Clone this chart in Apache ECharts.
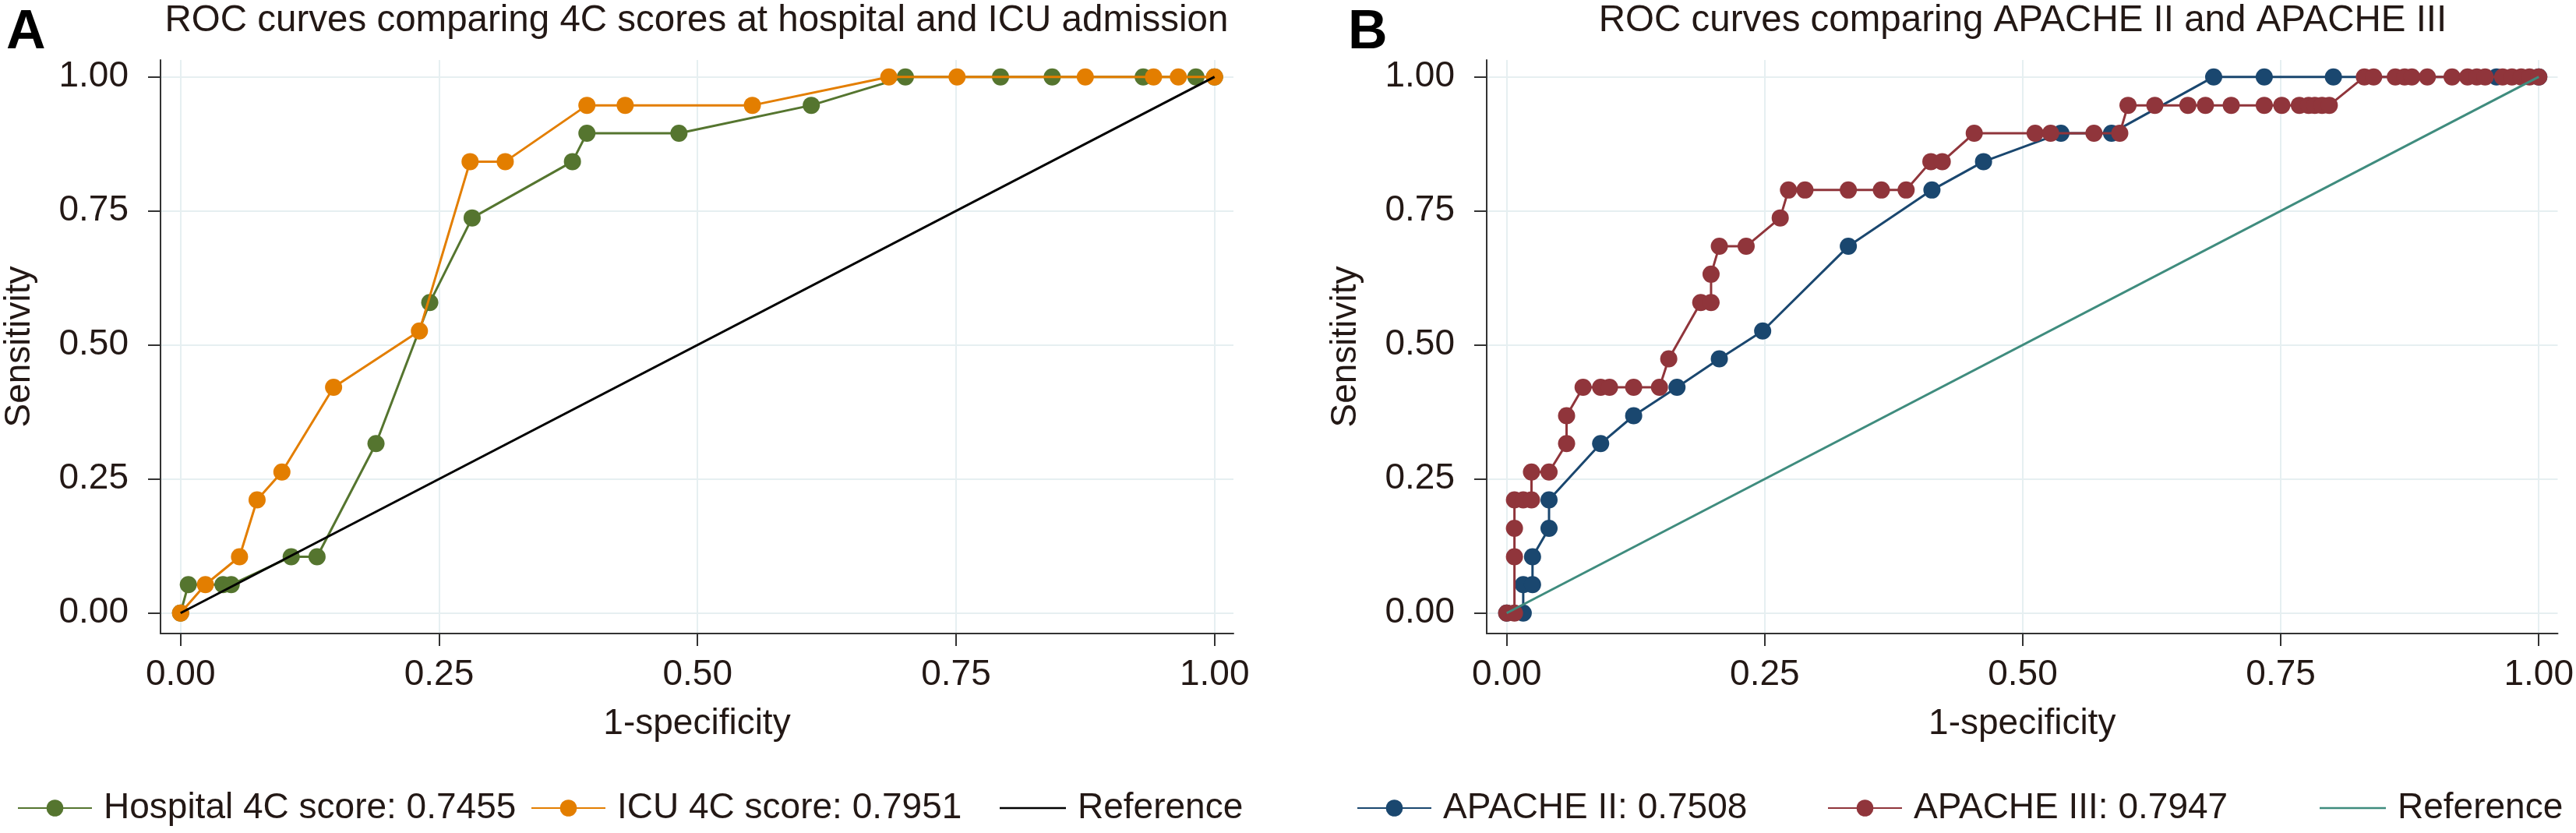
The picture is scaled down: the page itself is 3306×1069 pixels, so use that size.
<!DOCTYPE html>
<html><head><meta charset="utf-8">
<script src="https://cdn.jsdelivr.net/npm/echarts@6/dist/echarts.min.js"></script>
<style>html,body{margin:0;padding:0;background:#fff}#c{width:3306px;height:1069px}</style>
</head><body><div id="c"></div>
<script>
// ---- data ----
const tickValues = [0, 0.25, 0.5, 0.75, 1];
const panelTitles = ['ROC curves comparing 4C scores at hospital and ICU admission', 'ROC curves comparing APACHE II and APACHE III'];
const panelLetters = ['A', 'B'];

const hospX = [0, 0.0075, 0.041, 0.049, 0.107, 0.132, 0.189, 0.241, 0.282, 0.379, 0.393, 0.482, 0.610, 0.701, 0.793, 0.843, 0.931, 0.982, 1];
const hospY = [0, 0.053, 0.053, 0.053, 0.105, 0.105, 0.316, 0.579, 0.737, 0.842, 0.895, 0.895, 0.947, 1, 1, 1, 1, 1, 1];

const icuX = [0, 0.024, 0.057, 0.074, 0.098, 0.148, 0.231, 0.280, 0.314, 0.393, 0.430, 0.553, 0.685, 0.751, 0.875, 0.941, 0.965, 1];
const icuY = [0, 0.053, 0.105, 0.211, 0.263, 0.421, 0.526, 0.842, 0.842, 0.947, 0.947, 0.947, 1, 1, 1, 1, 1, 1];

const ap2X = [0, 0.016, 0.016, 0.025, 0.025, 0.041, 0.041, 0.091, 0.123, 0.165, 0.206, 0.248, 0.331, 0.412, 0.462, 0.537, 0.586, 0.685, 0.734, 0.801, 0.959, 1];
const ap2Y = [0, 0, 0.053, 0.053, 0.105, 0.158, 0.211, 0.316, 0.368, 0.421, 0.474, 0.526, 0.684, 0.789, 0.842, 0.895, 0.895, 1, 1, 1, 1, 1];

const ap3X = [0, 0.0075, 0.0075, 0.0075, 0.0075, 0.016, 0.024, 0.024, 0.041, 0.058, 0.058, 0.074, 0.091, 0.0996, 0.123, 0.148, 0.157, 0.188, 0.198, 0.198, 0.206, 0.232, 0.265, 0.273, 0.289, 0.331, 0.363, 0.387, 0.411, 0.422, 0.453, 0.512, 0.527, 0.569, 0.594, 0.602, 0.628, 0.660, 0.677, 0.702, 0.734, 0.751, 0.768, 0.777, 0.783, 0.790, 0.797, 0.831, 0.840, 0.861, 0.870, 0.877, 0.892, 0.916, 0.931, 0.940, 0.948, 0.965, 0.974, 0.983, 0.991, 1];
const ap3Y = [0, 0, 0.105, 0.158, 0.211, 0.211, 0.211, 0.263, 0.263, 0.316, 0.368, 0.421, 0.421, 0.421, 0.421, 0.421, 0.474, 0.579, 0.579, 0.632, 0.684, 0.684, 0.737, 0.789, 0.789, 0.789, 0.789, 0.789, 0.842, 0.842, 0.895, 0.895, 0.895, 0.895, 0.895, 0.947, 0.947, 0.947, 0.947, 0.947, 0.947, 0.947, 0.947, 0.947, 0.947, 0.947, 0.947, 1, 1, 1, 1, 1, 1, 1, 1, 1, 1, 1, 1, 1, 1, 1];

const refX = [0, 1];
const refY = [0, 1];

const legendLabels = {
  hosp: 'Hospital 4C score: 0.7455',
  icu: 'ICU 4C score: 0.7951',
  refA: 'Reference',
  ap2: 'APACHE II: 0.7508',
  ap3: 'APACHE III: 0.7947',
  refB: 'Reference'
};

// ---- styling ----
const FONT = "'Liberation Sans', Arial, sans-serif";
const TXT = '#231815';
const AX = '#333333';
const GRIDC = '#e6eff1';
const FS = 46;
const LINE_ICON = 'path://M0,0H100V3H0Z';

const zip = (xs, ys) => xs.map((x, i) => [x, ys[i]]);

function xAxisFor(gi) {
  return {
    gridIndex: gi, type: 'value', min: -0.0194, max: 1.0183,
    name: '1-specificity', nameLocation: 'middle', nameGap: 93,
    nameTextStyle: { fontSize: FS, fontFamily: FONT, color: TXT },
    axisLine: { show: true, onZero: false, lineStyle: { color: AX, width: 2 } },
    axisTick: { show: true, customValues: tickValues, length: 16, lineStyle: { color: AX, width: 2 } },
    axisLabel: { customValues: tickValues, formatter: v => v.toFixed(2), fontSize: FS, fontFamily: FONT, color: TXT, margin: 30 },
    splitLine: { show: true, lineStyle: { color: GRIDC, width: 2 } }
  };
}
function yAxisFor(gi) {
  return {
    gridIndex: gi, type: 'value', min: -0.0382, max: 1.0315,
    name: 'Sensitivity', nameLocation: 'middle', nameGap: 158, nameRotate: 90,
    nameTextStyle: { fontSize: FS, fontFamily: FONT, color: TXT },
    axisLine: { show: true, onZero: false, lineStyle: { color: AX, width: 2 } },
    axisTick: { show: true, customValues: tickValues, length: 16, lineStyle: { color: AX, width: 2 } },
    axisLabel: { customValues: tickValues, formatter: v => v.toFixed(2), fontSize: FS, fontFamily: FONT, color: TXT, margin: 41 },
    splitLine: { show: true, lineStyle: { color: GRIDC, width: 2 } }
  };
}
function curve(id, xs, ys, color, gi, z) {
  return {
    id: id, name: id, type: 'line', xAxisIndex: gi, yAxisIndex: gi, data: zip(xs, ys),
    symbol: 'circle', symbolSize: 22, showSymbol: true,
    itemStyle: { color: color }, lineStyle: { color: color, width: 3 },
    z: z, animation: false, silent: true
  };
}
function refLine(id, color, gi) {
  return {
    id: id, name: id, type: 'line', xAxisIndex: gi, yAxisIndex: gi, data: zip(refX, refY),
    symbol: 'none', showSymbol: false,
    itemStyle: { color: color }, lineStyle: { color: color, width: 3 },
    z: 5, animation: false, silent: true
  };
}
function legendAt(item, left, keyWidth) {
  return {
    orient: 'horizontal', left: left, top: 1009, itemWidth: keyWidth, itemHeight: 27,
    symbolKeepAspect: true,
    formatter: n => legendLabels[n],
    textStyle: { fontSize: FS, fontFamily: FONT, color: TXT, padding: [0, 0, 0, 10] },
    selectedMode: false, data: [item]
  };
}

const chart = echarts.init(document.getElementById('c'), null, { renderer: 'canvas' });
chart.setOption({
  animation: false,
  backgroundColor: '#ffffff',
  grid: [
    { left: 206, top: 77, width: 1377, height: 736 },
    { left: 1908, top: 77, width: 1377, height: 736 }
  ],
  xAxis: [xAxisFor(0), xAxisFor(1)],
  yAxis: [yAxisFor(0), yAxisFor(1)],
  legend: [
    legendAt('hosp', 17, 95),
    legendAt('icu', 676, 95),
    legendAt({ name: 'refA', icon: LINE_ICON }, 1278, 85),
    legendAt('ap2', 1736, 95),
    legendAt('ap3', 2340, 95),
    legendAt({ name: 'refB', icon: LINE_ICON }, 2972, 85)
  ],
  graphic: [
    { type: 'text', left: 8, top: 8, style: { text: panelLetters[0], font: "bold 70px " + FONT, fill: '#000' } },
    { type: 'text', left: 1730, top: 8, style: { text: panelLetters[1], font: "bold 70px " + FONT, fill: '#000' } },
    { type: 'text', x: 894, y: 27, style: { text: panelTitles[0], font: "47.5px " + FONT, fill: TXT, textAlign: 'center', textVerticalAlign: 'middle' } },
    { type: 'text', x: 2596, y: 27, style: { text: panelTitles[1], font: "47.5px " + FONT, fill: TXT, textAlign: 'center', textVerticalAlign: 'middle' } }
  ],
  series: [
    curve('hosp', hospX, hospY, '#55752f', 0, 3),
    curve('icu', icuX, icuY, '#e37e00', 0, 4),
    refLine('refA', '#000000', 0),
    curve('ap2', ap2X, ap2Y, '#1a476f', 1, 3),
    curve('ap3', ap3X, ap3Y, '#90353b', 1, 4),
    refLine('refB', '#3f8c7e', 1)
  ]
});
</script></body></html>
